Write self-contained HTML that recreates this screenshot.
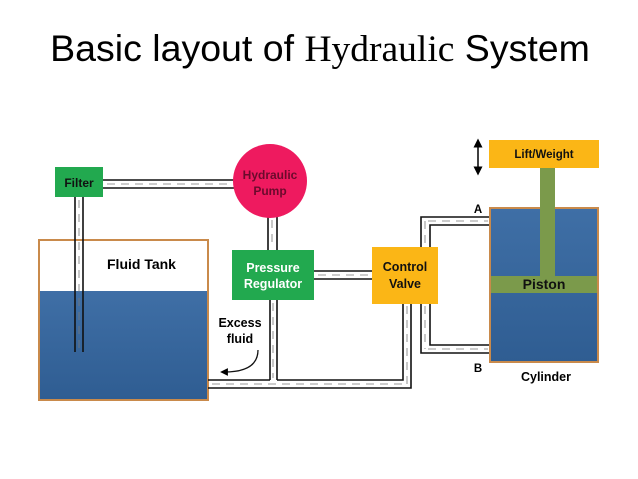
<!DOCTYPE html>
<html><head><style>
body{margin:0;background:#fff;}
svg{display:block;font-family:"Liberation Sans",sans-serif;}
</style></head><body>
<svg width="638" height="479" viewBox="0 0 638 479" xmlns="http://www.w3.org/2000/svg">
<defs>
<linearGradient id="w" x1="0" y1="0" x2="0" y2="1"><stop offset="0" stop-color="#3f6fa6"/><stop offset="1" stop-color="#2f5d92"/></linearGradient>
<marker id="ah" markerWidth="6" markerHeight="6" refX="3" refY="3" orient="auto-start-reverse"><path d="M0,0 L6,3 L0,6z" fill="#000"/></marker>
</defs>
<text x="320" y="61" font-size="37.5" text-anchor="middle" fill="#000">Basic layout of <tspan font-family="Liberation Serif,serif">Hydraulic</tspan> System</text>

<rect x="39" y="240" width="169" height="160" fill="#fff" stroke="#c98a4b" stroke-width="2"/>
<rect x="40" y="291" width="167" height="108" fill="url(#w)"/>
<text x="107" y="269" font-size="14" font-weight="bold">Fluid Tank</text>

<g fill="none" stroke="#111" stroke-width="1.6">
<path d="M75 197V352M83 197V352"/>
<path d="M103 180H234M103 188H234"/>
<path d="M268 217V250M277 217V250"/>
<path d="M314 271H372M314 279H372"/>
<path d="M270 300V380M277 300V380"/>
<path d="M208 380H270M277 380H403V304M208 388H411V304"/>
<path d="M421 304V353H490M430 304V345H490"/>
<path d="M421 247V217H490M430 247V225H490"/>
</g>
<g stroke="#777" stroke-width="0.8" stroke-dasharray="8,6">
<path d="M79 200V350M107 184H232M272 220V248M318 275H370M273 303V378M212 384H405M407 306V384M425 306V349M428 221H488M425 221V245M428 349H488"/>
</g>

<rect x="55" y="167" width="48" height="30" fill="#22a94f"/>
<text x="79" y="187" font-size="12" font-weight="bold" text-anchor="middle" fill="#111">Filter</text>
<circle cx="270" cy="181" r="37" fill="#ee1a5f"/>
<text x="270" y="179" font-size="12" font-weight="bold" text-anchor="middle" fill="#6b0a2c">Hydraulic</text>
<text x="270" y="195" font-size="12" font-weight="bold" text-anchor="middle" fill="#6b0a2c">Pump</text>
<rect x="232" y="250" width="82" height="50" fill="#22a94f"/>
<text x="273" y="272" font-size="12.5" font-weight="bold" text-anchor="middle" fill="#fff">Pressure</text>
<text x="273" y="288" font-size="12.5" font-weight="bold" text-anchor="middle" fill="#fff">Regulator</text>
<rect x="372" y="247" width="66" height="57" fill="#fbb616"/>
<text x="405" y="271" font-size="12.5" font-weight="bold" text-anchor="middle" fill="#111">Control</text>
<text x="405" y="288" font-size="12.5" font-weight="bold" text-anchor="middle" fill="#111">Valve</text>

<text x="240" y="327" font-size="12.5" font-weight="bold" text-anchor="middle">Excess</text>
<text x="240" y="343" font-size="12.5" font-weight="bold" text-anchor="middle">fluid</text>
<path d="M258 350 Q258 372 224 372" fill="none" stroke="#111" stroke-width="1.3" marker-end="url(#ah)"/>

<rect x="490" y="208" width="108" height="154" fill="url(#w)" stroke="#c98a4b" stroke-width="2"/>
<rect x="491" y="276" width="106" height="17" fill="#7b9a4b"/>
<rect x="540" y="168" width="15" height="108" fill="#7b9a4b"/>
<rect x="489" y="140" width="110" height="28" fill="#fbb616"/>
<text x="544" y="158" font-size="11.5" font-weight="bold" text-anchor="middle" fill="#111">Lift/Weight</text>
<text x="544" y="289" font-size="14" font-weight="bold" text-anchor="middle" fill="#111">Piston</text>
<text x="546" y="381" font-size="12.5" font-weight="bold" text-anchor="middle">Cylinder</text>
<text x="478" y="213" font-size="11.5" font-weight="bold" text-anchor="middle">A</text>
<text x="478" y="372" font-size="11.5" font-weight="bold" text-anchor="middle">B</text>
<path d="M478 143V171" stroke="#000" stroke-width="1.5" marker-start="url(#ah)" marker-end="url(#ah)"/>
</svg>
</body></html>
